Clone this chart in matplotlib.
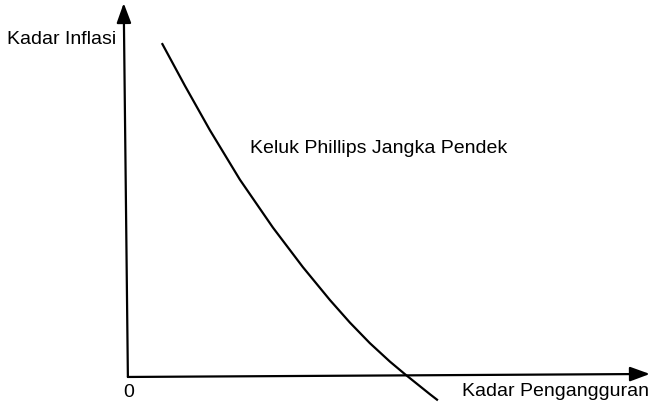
import matplotlib.pyplot as plt

plt.rcParams['font.family'] = ['Liberation Sans', 'DejaVu Sans']

# Keluk Phillips jangka pendek (pengangguran, inflasi)
pengangguran = [6.51, 10.92, 15.71, 21.46, 27.78, 33.52, 38.70, 42.53,
                46.36, 50.19, 53.07, 57.85, 59.39]
inflasi = [89.30, 77.91, 66.02, 52.78, 39.97, 29.39, 20.59, 14.55,
           9.04, 4.12, 0.75, -4.60, -6.26]

label_x = 'Kadar Pengangguran'
label_y = 'Kadar Inflasi'
label_keluk = 'Keluk Phillips Jangka Pendek'

fig = plt.figure(figsize=(6.53, 4.06), dpi=100)
ax = fig.add_axes([0, 0, 1, 1])
ax.set_xlim(-24.5, 100.6)
ax.set_ylim(-7.5, 101.1)
ax.axis('off')

# paksi dengan anak panah
gaya = dict(arrowstyle='-|>,head_length=0.6,head_width=0.22', mutation_scale=20,
            color='black', lw=1.6, shrinkA=0, shrinkB=0)
ax.annotate('', xy=(-0.8, 100), xytext=(0, 0), arrowprops=gaya)
ax.annotate('', xy=(100, 0.8), xytext=(0, 0), arrowprops=gaya)

ax.plot(pengangguran, inflasi, color='black', lw=1.6,
        solid_capstyle='butt', solid_joinstyle='round')

fs = 14
ax.text(-23.2, 90.6, label_y, fontsize=fs, ha='left', va='center')
ax.text(0.2, -4.0, '0', fontsize=fs, ha='center', va='center')
ax.text(64.0, -3.7, label_x, fontsize=fs, ha='left', va='center')
ax.text(23.4, 61.5, label_keluk, fontsize=fs, ha='left', va='center')

fig.savefig('out.png', dpi=100)
